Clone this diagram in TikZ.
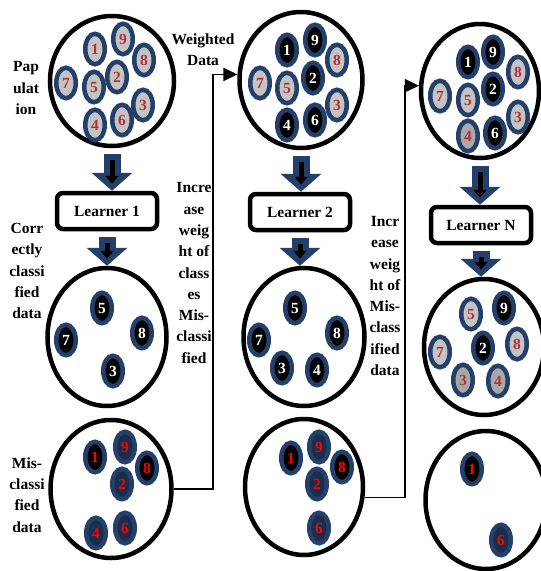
\documentclass[tikz,border=0pt]{standalone}
\usepackage{fontspec}
\setmainfont{Liberation Serif}
\usetikzlibrary{shapes.geometric,arrows.meta}

\definecolor{ringblue}{HTML}{24406A}
\definecolor{deepblue}{HTML}{1A2D4A}
\definecolor{ballgray}{HTML}{C4C4C4}
\definecolor{darkgray2}{HTML}{A8A8A8}
\definecolor{numred}{HTML}{B0303A}

\tikzset{
  txt/.style={font=\fontsize{15.5}{21.3}\selectfont\bfseries},
  pool/.style={ellipse,draw,line width=4.5pt,inner sep=0pt},
  ball/.style={ellipse,draw=ringblue,line width=4.5pt,minimum width=19.5pt,minimum height=30.5pt,inner sep=0pt,txt},
  gball/.style={ball,fill=ballgray,text=numred},
  dball/.style={ball,fill=darkgray2,text=numred},
  bball/.style={ball,fill=black,text=white},
  mball/.style={ball,fill=deepblue,text=red},
  kball/.style={ball,fill=black,text=red},
  learner/.style={draw,rounded corners=6pt,line width=4.5pt,minimum width=100pt,minimum height=36pt,txt},
  lbl/.style={align=center,txt},
  link/.style={line width=1.5pt},
  bluearrow/.style={draw=ringblue,line width=17pt,-{Triangle[width=40pt,length=18pt]}},
  blackarrow/.style={draw=black,line width=5pt,-{Triangle[width=13pt,length=8pt]}}
}

\begin{document}
\begin{tikzpicture}[x=1pt,y=-1pt]
  \useasboundingbox (0,0) rectangle (541,571);

  % pools of data
  \node[pool,minimum width=124pt,minimum height=130pt] (pop1) at (112,81) {};
  \node[pool,minimum width=123pt,minimum height=136pt] (pop2) at (301,80) {};
  \node[pool,minimum width=118pt,minimum height=134pt] (pop3) at (480,91) {};
  \node[pool,minimum width=119pt,minimum height=138pt] (cor1) at (107,337) {};
  \node[pool,minimum width=121pt,minimum height=138pt] (cor2) at (304,337) {};
  \node[pool,minimum width=120pt,minimum height=136pt] (cor3) at (484,347) {};
  \node[pool,minimum width=121pt,minimum height=138pt] (mis1) at (111,489) {};
  \node[pool,minimum width=118pt,minimum height=136pt] (mis2) at (304,487) {};
  \node[pool,minimum width=121pt,minimum height=138pt] (mis3) at (486,500) {};

  % learners
  \node[learner] (learn1) at (107,211) {Learner 1};
  \node[learner] (learn2) at (300,212) {Learner 2};
  \node[learner] (learnN) at (481,225) {Learner N};

  % samples
  \foreach \n/\x/\y in {1/95/49,9/123/39,8/144/60,7/66/83,5/94/87,2/117/77,3/143/105,4/95/125,6/122/120}
    \node[gball] (pa\n) at (\x,\y) {\n};
  \foreach \n/\x/\y/\s in {1/287/50/bball,9/315/40/bball,8/337/60/gball,7/260/83/gball,5/287/88/gball,
                           2/313/78/bball,3/337/105/gball,4/287/125/bball,6/315/120/bball}
    \node[\s] (pb\n) at (\x,\y) {\n};
  \foreach \n/\x/\y/\s in {1/468/62/bball,9/493/52/bball,8/518/72/gball,7/440/96/gball,5/468/100/gball,
                           2/493/89/bball,3/518/117/gball,4/468/136/dball,6/495/133/bball}
    \node[\s] (pc\n) at (\x,\y) {\n};

  \foreach \n/\x/\y in {5/102/308,7/66/340,8/142/333,3/113/371}
    \node[bball] (ca\n) at (\x,\y) {\n};
  \foreach \n/\x/\y in {5/295/308,7/259/340,8/337/333,3/282/368,4/317/370}
    \node[bball] (cb\n) at (\x,\y) {\n};
  \foreach \n/\x/\y/\s in {5/471/314/gball,9/504/308/bball,7/440/352/gball,2/483/348/bball,
                           8/517/344/gball,3/463/380/dball,4/498/381/dball}
    \node[\s] (cc\n) at (\x,\y) {\n};

  \foreach \n/\x/\y/\s in {1/95/457/kball,9/125/447/mball,8/147/468/kball,2/122/484/mball,4/96/533/mball,6/125/528/mball}
    \node[\s] (ma\n) at (\x,\y) {\n};
  \foreach \n/\x/\y/\s in {1/291/458/kball,9/319/447/mball,8/342/467/kball,2/317/484/mball,6/319/528/mball}
    \node[\s] (mb\n) at (\x,\y) {\n};
  \foreach \n/\x/\y/\s in {1/472/469/kball,6/501/540/mball}
    \node[\s] (mc\n) at (\x,\y) {\n};

  % labels
  \node[lbl] (poplbl) at (26,88) {Pap\\ulat\\ion};
  \node[lbl] (wlbl) at (203,50) {Weighted\\Data};
  \node[lbl] (corlbl) at (27,271) {Corr\\ectly\\classi\\fied\\data};
  \node[lbl] (inclbl1) at (194,273) {Incre\\ase\\weig\\ht of\\class\\es\\Mis-\\classi\\fied};
  \node[lbl] (inclbl2) at (385,296) {Incr\\ease\\weig\\ht of\\Mis-\\class\\ified\\data};
  \node[lbl] (mislbl) at (27,495) {Mis-\\classi\\fied\\data};

  % block arrows
  \foreach \a/\b in {pop1/learn1,learn1/cor1,pop2/learn2,learn2/cor2,pop3/learnN,learnN/cor3}{
    \draw[bluearrow,shorten <=6pt] (\a.south) -- (\a.south |- \b.north);
    \draw[blackarrow,shorten <=12pt,shorten >=7pt] (\a.south) -- (\a.south |- \b.north);
  }

  % feedback
  \coordinate (bendA) at (213,0);
  \coordinate (bendB) at (405,0);
  \draw[link,-{Triangle[length=14pt,width=13pt]}] (mis1.east) -| (bendA |- pop2.175) -- (pop2.175);
  \draw[link,-{Triangle[length=14pt,width=13pt]}] (mis2.350) -| (bendB |- pop3.175) -- (pop3.175);
\end{tikzpicture}
\end{document}
